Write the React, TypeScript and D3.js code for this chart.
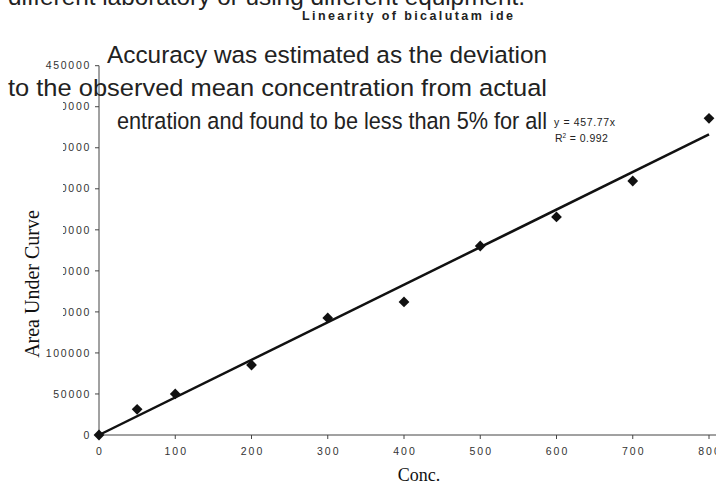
import React from "react";
import * as d3 from "d3";

const concentrations = [0, 50, 100, 200, 300, 400, 500, 600, 700, 800];
const areas = [0, 31300, 50000, 85300, 142600, 162100, 230300, 265700, 309500, 385900];
const slope = 457.77;
const xTicks = [0, 100, 200, 300, 400, 500, 600, 700, 800];
const yTicks = [0, 50000, 100000, 150000, 200000, 250000, 300000, 350000, 400000, 450000];
const clippedYTicks = [150000, 200000, 250000, 300000, 350000, 400000];
const titleText = "Linearity of bicalutam ide";
const equationText = "y = 457.77x";
const r2Text = "0.992";
const xTitle = "Conc.";
const yTitle = "Area Under Curve";
const overlayLines = [
  "different laboratory or using different equipment.",
  "Accuracy was estimated as the deviation",
  "to the observed mean concentration from actual",
  "entration and found to be less than 5% for all",
];

const W = 716;
const H = 484;

export default function App() {
  const x = d3.scaleLinear().domain([0, 800]).range([99, 709]);
  const y = d3.scaleLinear().domain([0, 450000]).range([435, 65.7]);
  const line = d3
    .line<number>()
    .x((d) => x(d))
    .y((d) => y(d * slope));
  const diamond = d3.symbol().type(d3.symbolSquare).size(58)();
  const sans = "'Liberation Sans', Arial, sans-serif";
  const serif = "'Liberation Serif', 'Times New Roman', serif";
  const axisColor = "#444";
  const tickColor = "#333";

  const overlayPos = [
    { x: 8, y: 5, len: 517 },
    { x: 107, y: 63, len: 440 },
    { x: 8, y: 96, len: 539 },
    { x: 117, y: 129, len: 430 },
  ];

  return (
    <svg
      width={W}
      height={H}
      style={{ position: "absolute", left: 0, top: 0, background: "#fff" }}
    >
      <rect x={0} y={0} width={W} height={H} fill="#fff" />
      {/* title */}
      <text
        x={302}
        y={19.5}
        fontFamily={sans}
        fontWeight="bold"
        fontSize={12.5}
        fill="#222"
        textLength={211}
        lengthAdjust="spacing"
      >
        {titleText}
      </text>

      {/* y tick labels */}
      {yTicks.map((t) => (
        <text
          key={"yl" + t}
          x={91}
          y={y(t)}
          dy="0.35em"
          textAnchor="end"
          fontFamily={sans}
          fontSize={10.5}
          letterSpacing={1.7}
          fill={tickColor}
        >
          {t}
        </text>
      ))}
      {/* white mask cutting off the left of some labels */}
      <rect
        x={40}
        y={y(d3.max(clippedYTicks)!) - 10}
        width={23}
        height={y(d3.min(clippedYTicks)!) - y(d3.max(clippedYTicks)!) + 20}
        fill="#fff"
      />

      {/* axes */}
      <line x1={x(0)} x2={W} y1={y(0)} y2={y(0)} stroke={axisColor} strokeWidth={1} />
      <line x1={x(0)} x2={x(0)} y1={y(0)} y2={y(450000)} stroke={axisColor} strokeWidth={1} />
      {yTicks.map((t) => (
        <line key={"yt" + t} x1={x(0) - 4} x2={x(0)} y1={y(t)} y2={y(t)} stroke={axisColor} />
      ))}
      {xTicks.map((t) => (
        <g key={"xt" + t}>
          <line x1={x(t)} x2={x(t)} y1={y(0)} y2={y(0) + 4} stroke={axisColor} />
          <text
            x={x(t) + 1}
            y={455}
            textAnchor="middle"
            fontFamily={sans}
            fontSize={10.5}
            letterSpacing={2}
            fill={tickColor}
          >
            {t}
          </text>
        </g>
      ))}

      {/* trend line */}
      <path d={line([0, 800]) || ""} fill="none" stroke="#111" strokeWidth={2.5} />

      {/* points */}
      {concentrations.map((c, i) => (
        <path
          key={"p" + c}
          d={diamond || ""}
          transform={`translate(${x(c)},${y(areas[i])}) rotate(45)`}
          fill="#111"
        />
      ))}

      {/* equation */}
      <text x={554} y={126} fontFamily={sans} fontSize={10.5} fill="#222" textLength={61} lengthAdjust="spacing">
        {equationText}
      </text>
      <text x={555} y={142} fontFamily={sans} fontSize={10.5} fill="#222">
        <tspan>R</tspan>
        <tspan dy={-4} fontSize={6.5}>2</tspan>
        <tspan dy={4} letterSpacing={0.5}>{" = " + r2Text}</tspan>
      </text>

      {/* axis titles */}
      <text x={419} y={481} textAnchor="middle" fontFamily={serif} fontSize={18} fill="#111">
        {xTitle}
      </text>
      <text
        transform={`translate(39,${284}) rotate(-90)`}
        textAnchor="middle"
        fontFamily={serif}
        fontSize={20}
        fill="#111"
      >
        {yTitle}
      </text>

      {/* overlapping page text */}
      {overlayLines.map((s, i) => (
        <text
          key={"o" + i}
          x={overlayPos[i].x}
          y={overlayPos[i].y}
          fontFamily={sans}
          fontSize={24.5}
          fill="#222"
          textLength={overlayPos[i].len}
          lengthAdjust="spacingAndGlyphs"
        >
          {s}
        </text>
      ))}
    </svg>
  );
}
